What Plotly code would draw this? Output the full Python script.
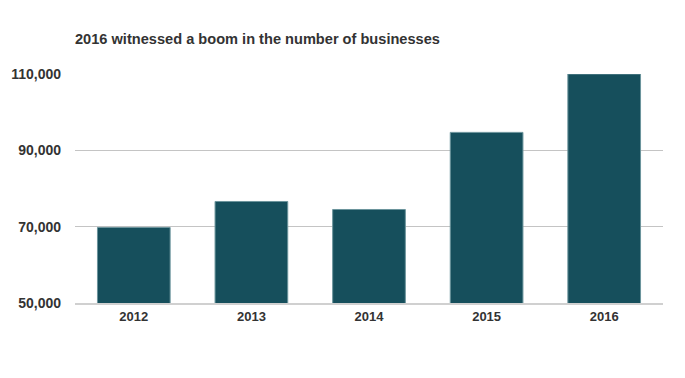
import plotly.graph_objects as go

years = ["2012", "2013", "2014", "2015", "2016"]
businesses = [69800, 76600, 74500, 94700, 110000]
y_ticks = [50000, 70000, 90000, 110000]
y_tick_labels = ["50,000", "70,000", "90,000", "110,000"]
title_text = "2016 witnessed a boom in the number of businesses"

# page body has an 8px default margin; compensate so the chart lands like the reference
W, H = 677, 370

fig = go.Figure(
    go.Bar(
        x=years,
        y=businesses,
        marker=dict(color="#164f5c", line=dict(color="#6b949c", width=1)),
        hoverinfo="x+y",
    )
)

fig.update_layout(
    width=W,
    height=H,
    margin=dict(l=67, r=22, t=66, b=75),
    paper_bgcolor="white",
    plot_bgcolor="white",
    bargap=0.382,
    showlegend=False,
    font=dict(family="Liberation Sans, Arial, sans-serif", color="#333333"),
    title=dict(
        text="<b>" + title_text + "</b>",
        x=67 / W,
        xanchor="left",
        xref="container",
        y=1 - 31 / H,
        yanchor="middle",
        yref="container",
        font=dict(size=14.6, color="#333333"),
    ),
)

fig.update_yaxes(
    range=[50000, 110000],
    tickvals=y_ticks,
    ticktext=["<b>" + t + "</b>" for t in y_tick_labels],
    tickfont=dict(size=14, color="#333333"),
    showgrid=True,
    gridcolor="#c4c4c4",
    gridwidth=1,
    zeroline=False,
    showline=False,
    ticks="",
    ticklabelstandoff=13,
    automargin=False,
    fixedrange=True,
)

fig.update_xaxes(
    tickfont=dict(size=13, color="#333333"),
    ticktext=["<b>" + y + "</b>" for y in years],
    tickvals=years,
    showgrid=False,
    zeroline=False,
    showline=True,
    linecolor="#d0d0d0",
    linewidth=2,
    ticks="",
    ticklabelstandoff=0,
    automargin=False,
    fixedrange=True,
)

fig.write_html("out.html")
